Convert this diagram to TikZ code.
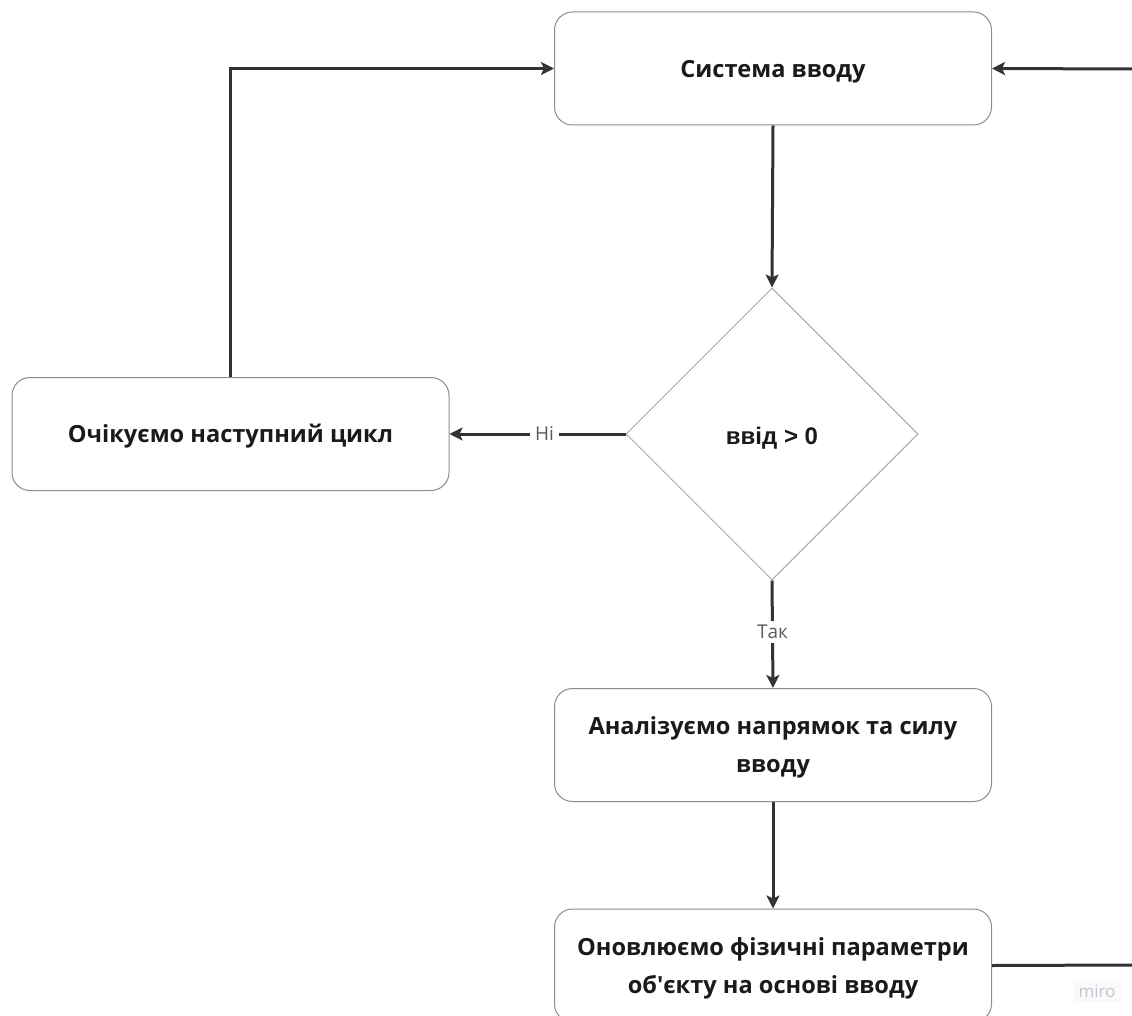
\documentclass[tikz,border=0pt]{standalone}
\usepackage{fontspec}
\setmainfont{Open Sans}
\newfontfamily\condfont{Liberation Sans}
\usetikzlibrary{arrows.meta,shapes.geometric}

\definecolor{ink}{HTML}{1A1A1A}
\definecolor{wire}{HTML}{333333}
\definecolor{frame}{HTML}{8C8C8C}
\definecolor{dframe}{HTML}{A8A8A8}
\definecolor{lbl}{HTML}{5A5A5A}
\definecolor{mark}{HTML}{C4C4D6}

\tikzset{
  procbox/.style={draw=frame, line width=1pt, rounded corners=18pt, fill=white,
    minimum width=437pt, minimum height=113pt, inner sep=0pt, align=center,
    text=ink, font=\fontsize{23.6}{38}\selectfont\bfseries,
    text height=17.6pt, text depth=0pt},
  % two-line boxes: the box's reference baseline is the last line
  twoline/.style={text height=55.6pt, text depth=0pt},
  decision/.style={diamond, aspect=1, draw=dframe, line width=1pt, fill=white,
    minimum size=292pt, inner sep=0pt, text=ink,
    font=\condfont\fontsize{24}{28}\selectfont\bfseries,
    text height=20pt, text depth=0pt},
  link/.style={draw=wire, line width=3pt},
  arr/.style={link, -{Stealth[length=13pt,width=13pt,inset=3pt]}},
  tag/.style={fill=white, text=lbl, inner xsep=5pt, inner ysep=4pt, font=\fontsize{19}{21}\selectfont}
}

\begin{document}
\begin{tikzpicture}[x=1pt,y=-1pt]
  \useasboundingbox (0,0) rectangle (1132,1016);

  % process steps and the decision
  \node[procbox] (input)   at (773,68.5) {Система вводу};
  \node[decision] (check)  at (772,434) {ввід > 0};
  \node[procbox] (wait)    at (230.5,434) {Очікуємо наступний цикл};
  \node[procbox, twoline] (analyse) at (773,745) {Аналізуємо напрямок та силу\\вводу};
  \node[procbox, twoline] (update)  at (773,965.5) {Оновлюємо фізичні параметри\\об\textquotesingle єкту на основі вводу};

  % loose ends leaving the sheet on the right
  \coordinate (backin)  at (1132,69);
  \coordinate (backout) at (1132,965);

  % connectors
  \draw[arr] (input.south) -- (check.north);
  \draw[arr] (check.west) -- node[tag, pos=0.46] {Ні} (wait.east);
  \draw[arr] (wait.north) |- (input.west);
  \draw[arr] (check.south) -- node[tag, pos=0.48] {Так} (analyse.north);
  \draw[arr] (analyse.south) -- (update.north);
  \draw[arr] (backin) -- (input.east);
  \draw[link] (update.east) -- (backout);

  % board watermark
  \node[fill=black!2, text=mark, inner sep=5pt, font=\fontsize{17}{19}\selectfont] (miro) at (1097,991) {miro};
\end{tikzpicture}
\end{document}
